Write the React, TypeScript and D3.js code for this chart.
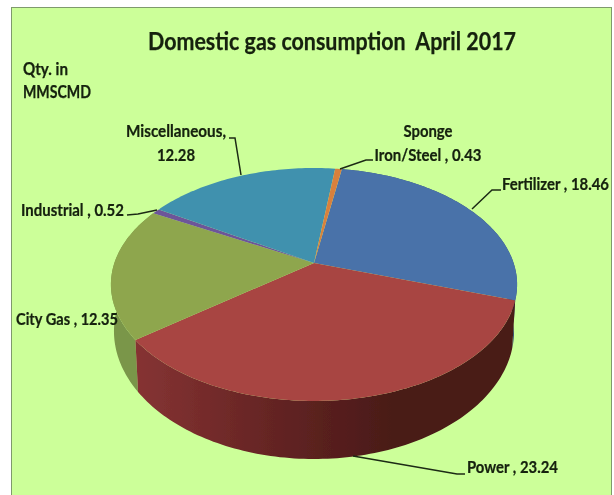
import React from "react";
import * as d3 from "d3";

const categories = ["Fertilizer", "Power", "City Gas", "Industrial", "Miscellaneous", "Sponge Iron/Steel"];
const values = [18.46, 23.24, 12.35, 0.52, 12.28, 0.43];
const topColors = ["#4a72a9", "#a84442", "#8ea64e", "#6d5499", "#3f91ae", "#d8803c"];
const sideColors = ["#2f4d75", "url(#powerSide)", "#7a964a", "#4d3a6c", "#2b6a80", "#a05a28"];

const width = 614;
const height = 495;

// perspective projection of the pie disc, the centre of the disc sits above the middle of the ellipse
const cx = 314;
const cy = 263;
const radius = 199.6;
const persp = -0.1845;
const tilt = 64;

const project = (angle: number): [number, number] => {
  const u = Math.sin(angle);
  const v = -Math.cos(angle);
  const w = 1 + persp * v;
  return [cx + (radius * u) / w, (tilt * v + cy) / w];
};

// bottom rim of the pie
const dropped = ([x, y]: [number, number]): [number, number] => [
  cx + (x - cx) * 0.985,
  cy + 44.5 + (y - cy) * 1.098,
];

const pie = d3
  .pie<number>()
  .sort(null)
  .startAngle((9.5 * Math.PI) / 180)
  .endAngle((369.5 * Math.PI) / 180);

const line = d3.line();

const arcPoints = (a0: number, a1: number) => {
  const n = Math.max(2, Math.ceil(Math.abs(a1 - a0) / 0.02));
  return d3.range(n + 1).map((i) => project(a0 + ((a1 - a0) * i) / n));
};

const slices = pie(values);

const topPath = (a0: number, a1: number) =>
  line([[cx, cy], ...arcPoints(a0, a1)]) + "Z";

const sidePath = (a0: number, a1: number) => {
  const rim = arcPoints(a0, a1);
  return line([...rim, ...rim.slice().reverse().map(dropped)]) + "Z";
};

const titleText = "Domestic gas consumption  April 2017";
const unitLines = ["Qty. in", "MMSCMD"];

const labels = [
  { lines: ["Miscellaneous,", "12.28"], anchor: "middle", x: 176, y: 137, len: [100, 38] },
  { lines: ["Industrial , 0.52"], anchor: "start", x: 21, y: 216, len: [103] },
  { lines: ["Sponge", "Iron/Steel , 0.43"], anchor: "middle", x: 428, y: 137, len: [49, 107] },
  { lines: ["Fertilizer , 18.46"], anchor: "start", x: 502, y: 190, len: [107] },
  { lines: ["Power , 23.24"], anchor: "start", x: 467, y: 473, len: [91] },
  { lines: ["City Gas , 12.35"], anchor: "start", x: 16, y: 325, len: [102] },
];

const leaders: [number, number][][] = [
  [[229, 138], [235, 138], [241, 175]],
  [[127, 215], [138, 214], [157, 210]],
  [[373, 160], [366, 160], [340, 169]],
  [[501, 190], [492, 190], [472, 209]],
  [[465, 474], [457, 474], [353, 456]],
];

const font = "Lato, 'Open Sans', sans-serif";
const narrow = 0.88; // the labels are narrower than Lato

export default function App() {
  return (
    <svg
      width={width}
      height={height}
      viewBox={`0 0 ${width} ${height}`}
      style={{ position: "absolute", left: 0, top: 0, background: "#fff" }}
    >
      <defs>
        <linearGradient id="powerSide" gradientUnits="userSpaceOnUse" x1={135} x2={400} y1={0} y2={0}>
          <stop offset="0" stopColor="#863333" />
          <stop offset="0.6" stopColor="#5f2221" />
          <stop offset="1" stopColor="#481a17" />
        </linearGradient>
        {/* the source picture is a soft, resampled image */}
        <filter id="soft" x="0" y="0" width="100%" height="100%">
          <feGaussianBlur stdDeviation={0.45} />
        </filter>
      </defs>

      <g filter="url(#soft)">
        <rect x={11.5} y={7.5} width={600} height={490} fill="#ccff99" stroke="#7f9a6c" />

        {/* sides first, the top faces cover what is hidden */}
        {[0, 2, 1].map((i) => (
          <path key={i} d={sidePath(slices[i].startAngle, slices[i].endAngle)} fill={sideColors[i]} />
        ))}
        {slices.map((s, i) => (
          <path key={categories[i]} d={topPath(s.startAngle, s.endAngle)} fill={topColors[i]} />
        ))}

        {leaders.map((pts, i) => (
          <path key={i} d={line(pts) ?? ""} fill="none" stroke="#1c2a14" strokeWidth={1.5} />
        ))}

        <g fontFamily={font} fontWeight={700} fill="#14200f" stroke="#14200f" strokeWidth={0.25}>
          <text x={148} y={50} fontSize={24} textLength={368} lengthAdjust="spacingAndGlyphs" xmlSpace="preserve">
            {titleText}
          </text>
          <text x={23} y={75} fontSize={16.5} textLength={45} lengthAdjust="spacingAndGlyphs">
            {unitLines[0]}
          </text>
          <text x={23} y={98} fontSize={16.5} textLength={68} lengthAdjust="spacingAndGlyphs">
            {unitLines[1]}
          </text>
          {labels.map((l) =>
            l.lines.map((t, j) => (
              <text
                key={t}
                transform={`translate(${l.x},${l.y + j * 24}) scale(${narrow},1)`}
                fontSize={17.5}
                textAnchor={l.anchor}
                textLength={l.len[j] / narrow}
                lengthAdjust="spacingAndGlyphs"
              >
                {t}
              </text>
            ))
          )}
        </g>
      </g>
    </svg>
  );
}
